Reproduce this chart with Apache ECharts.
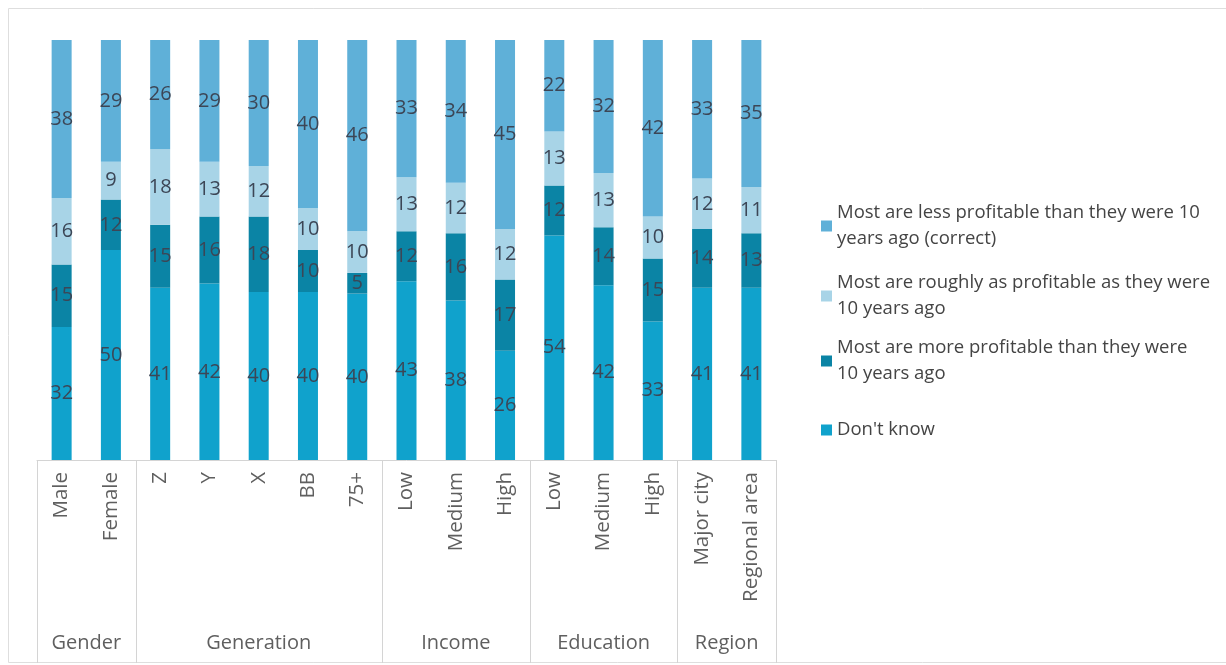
<!DOCTYPE html>
<html>
<head>
<meta charset="utf-8">
<script src="https://cdn.jsdelivr.net/npm/echarts@6/dist/echarts.min.js"></script>
<style>
  html, body { margin: 0; padding: 0; background: #ffffff; }
  #chart { width: 1226px; height: 665px; }
</style>
</head>
<body>
<div id="chart"></div>
<script>
// Category labels (bottom level) and their groups (second level)
const categories = ['Male', 'Female', 'Z', 'Y', 'X', 'BB', '75+', 'Low', 'Medium', 'High', 'Low', 'Medium', 'High', 'Major city', 'Regional area'];
const groupNames = ['Gender', 'Generation', 'Income', 'Education', 'Region'];
const groupSizes = [2, 5, 3, 3, 2];

// Survey responses (%) per category
const seriesNames = [
  "Don't know",
  'Most are more profitable than they were 10 years ago',
  'Most are roughly as profitable as they were 10 years ago',
  'Most are less profitable than they were 10 years ago (correct)'
];
const dontKnow  = [32, 50, 41, 42, 40, 40, 40, 43, 38, 26, 54, 42, 33, 41, 41];
const moreProf  = [15, 12, 15, 16, 18, 10,  5, 12, 16, 17, 12, 14, 15, 14, 13];
const roughly   = [16,  9, 18, 13, 12, 10, 10, 13, 12, 12, 13, 13, 10, 12, 11];
const lessProf  = [38, 29, 26, 29, 30, 40, 46, 33, 34, 45, 22, 32, 42, 33, 35];

const seriesValues = [dontKnow, moreProf, roughly, lessProf];
const seriesColors = ['#10a2cc', '#0b84a5', '#a8d4e7', '#5fb0d8'];

// Legend text, wrapped as shown beside the chart (top to bottom)
const legendLines = {
  'Most are less profitable than they were 10 years ago (correct)': 'Most are less profitable than they were 10\nyears ago (correct)',
  'Most are roughly as profitable as they were 10 years ago': 'Most are roughly as profitable as they were\n10 years ago',
  'Most are more profitable than they were 10 years ago': 'Most are more profitable than they were\n10 years ago',
  "Don't know": "Don't know"
};
const legendOrder = [seriesNames[3], seriesNames[2], seriesNames[1], seriesNames[0]];
const legendTops = [187, 257, 322, 417];

const FONT = '"Open Sans", sans-serif';

// 100% stacked: each column is scaled by its own total
const totals = categories.map((_, i) => seriesValues.reduce((s, arr) => s + arr[i], 0));

const barSeries = seriesNames.map((name, k) => ({
  name: name,
  type: 'bar',
  stack: 'share',
  barWidth: 20,
  itemStyle: { color: seriesColors[k] },
  label: {
    show: true,
    position: 'inside',
    color: '#3c4656',
    fontFamily: FONT,
    fontSize: 20,
    formatter: p => String(p.data.raw)
  },
  data: seriesValues[k].map((v, i) => ({ value: v / totals[i] * 100, raw: v }))
}));

// Group ranges for the second axis level
const groupData = [];
let startIdx = 0;
groupSizes.forEach(n => {
  groupData.push([startIdx, 0, startIdx + n - 1]);
  startIdx += n;
});

const groupSeries = {
  type: 'custom',
  name: 'groups',
  clip: false,
  silent: true,
  z: 5,
  encode: { x: 0, y: 1 },
  data: groupData,
  renderItem: function (params, api) {
    const s = api.value(0), e = api.value(2);
    const band = api.size([1, 0])[0];
    const x0 = api.coord([s, 0])[0] - band / 2;
    const x1 = api.coord([e, 0])[0] + band / 2;
    const yBase = api.coord([s, 0])[1];
    const lineStyle = { stroke: '#d4d4d4', lineWidth: 1 };
    const children = [];
    if (params.dataIndex === 0) {
      children.push({ type: 'line', shape: { x1: Math.round(x0) + 0.5, y1: yBase, x2: Math.round(x0) + 0.5, y2: yBase + 203 }, style: lineStyle });
    }
    children.push({ type: 'line', shape: { x1: Math.round(x1) + 0.5, y1: yBase, x2: Math.round(x1) + 0.5, y2: yBase + 203 }, style: lineStyle });
    children.push({
      type: 'text',
      style: {
        text: groupNames[params.dataIndex],
        x: (x0 + x1) / 2,
        y: yBase + 183,
        align: 'center',
        verticalAlign: 'middle',
        fill: '#5f5f5f',
        font: '20px ' + FONT
      }
    });
    return { type: 'group', children: children };
  }
};

const legends = legendOrder.map((name, i) => ({
  orient: 'vertical',
  left: 821,
  top: legendTops[i],
  padding: 0,
  itemWidth: 11,
  itemHeight: 11,
  selectedMode: false,
  icon: 'rect',
  data: [{
    name: name,
    itemStyle: { color: seriesColors[seriesNames.indexOf(name)] },
    textStyle: legendLines[name].indexOf('\n') >= 0 ? { padding: [26, 0, 0, 0] } : {}
  }],
  formatter: n => legendLines[n],
  textStyle: {
    color: '#444444',
    fontFamily: FONT,
    fontSize: 18.5,
    lineHeight: 26
  }
}));

const chart = echarts.init(document.getElementById('chart'), null, { renderer: 'canvas' });
chart.setOption({
  animation: false,
  backgroundColor: '#ffffff',
  graphic: [{
    type: 'rect',
    shape: { x: 8.5, y: 8.5, width: 1240, height: 654 },
    style: { fill: 'none', stroke: '#dedede', lineWidth: 1 },
    silent: true,
    z: -10
  }],
  legend: legends,
  grid: { left: 37, top: 40, width: 739, height: 420, containLabel: false },
  xAxis: {
    type: 'category',
    data: categories,
    boundaryGap: true,
    axisLine: { show: true, lineStyle: { color: '#d4d4d4', width: 1 } },
    axisTick: { show: false },
    axisLabel: {
      interval: 0,
      rotate: 90,
      margin: 12,
      color: '#5f5f5f',
      fontFamily: FONT,
      fontSize: 20.5
    }
  },
  yAxis: {
    type: 'value',
    min: 0,
    max: 100,
    show: false,
    splitLine: { show: false }
  },
  series: barSeries.concat([groupSeries])
});
</script>
</body>
</html>
